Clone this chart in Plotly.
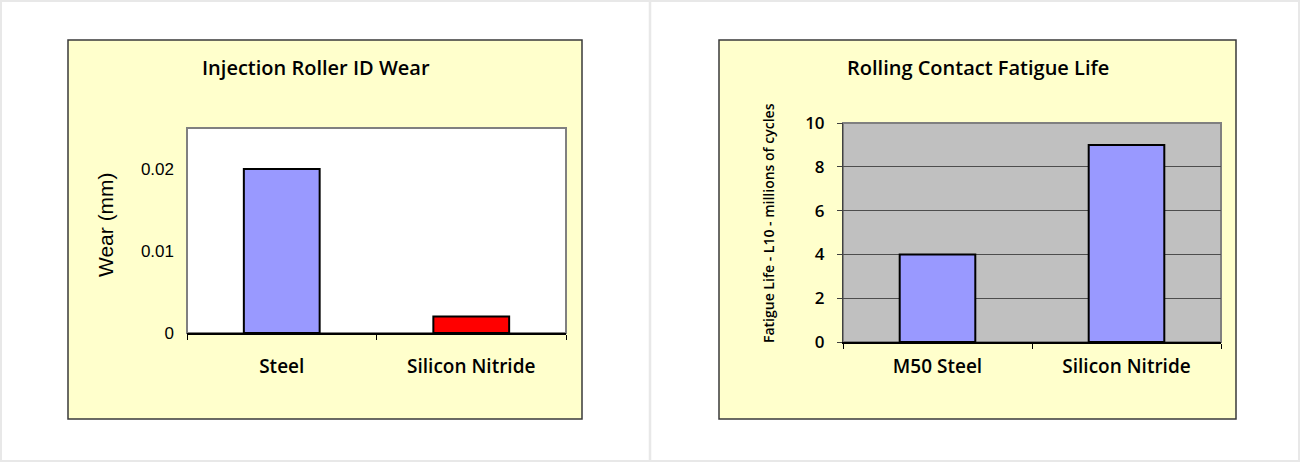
import plotly.graph_objects as go

# ---- data ----
wear_categories = ["Steel", "Silicon Nitride"]
wear_values = [0.02, 0.002]
wear_colors = ["#9999FF", "#FF0000"]

fatigue_categories = ["M50 Steel", "Silicon Nitride"]
fatigue_values = [4, 9]

left_title = "Injection Roller ID Wear"
right_title = "Rolling Contact Fatigue Life"
left_ytitle = "Wear (mm)"
right_ytitle = "Fatigue Life - L10 - millions of cycles"

W, H = 1300, 462


def px(x):
    return x / W


def py(y):
    return 1 - y / H


OPEN = "Open Sans"
ARIAL = "Liberation Sans"

fig = go.Figure()

fig.add_trace(go.Bar(
    x=wear_categories, y=wear_values, xaxis="x", yaxis="y",
    marker=dict(color=wear_colors, line=dict(color="black", width=2)),
    showlegend=False, hoverinfo="x+y",
))
fig.add_trace(go.Bar(
    x=fatigue_categories, y=fatigue_values, xaxis="x2", yaxis="y2",
    marker=dict(color="#9999FF", line=dict(color="black", width=2)),
    showlegend=False, hoverinfo="x+y",
))

shapes = [
    # page frame and divider
    dict(type="rect", xref="paper", yref="paper", x0=px(1), x1=px(1299), y0=py(461), y1=py(1),
         line=dict(color="#e8e8e8", width=2), fillcolor="rgba(0,0,0,0)", layer="below"),
    dict(type="line", xref="paper", yref="paper", x0=px(650), x1=px(650), y0=0, y1=1,
         line=dict(color="#e8e8e8", width=2.5), layer="below"),
    # yellow chart boxes
    dict(type="rect", xref="paper", yref="paper", x0=px(68), x1=px(582), y0=py(419), y1=py(40),
         line=dict(color="#3a3a3a", width=1.5), fillcolor="#FFFFCC", layer="below"),
    dict(type="rect", xref="paper", yref="paper", x0=px(719), x1=px(1236), y0=py(419), y1=py(40),
         line=dict(color="#3a3a3a", width=1.5), fillcolor="#FFFFCC", layer="below"),
    # plot areas
    dict(type="rect", xref="paper", yref="paper", x0=px(187), x1=px(566), y0=py(333), y1=py(128),
         line=dict(color="#808080", width=2), fillcolor="#FFFFFF", layer="below"),
    dict(type="rect", xref="paper", yref="paper", x0=px(843), x1=px(1221), y0=py(342), y1=py(123),
         line=dict(color="#808080", width=2), fillcolor="#C0C0C0", layer="below"),
]

annotations = [
    dict(text=left_title, xref="paper", yref="paper", x=px(316), y=py(67),
         xanchor="center", yanchor="middle", showarrow=False,
         font=dict(family=OPEN, size=20, color="black", weight=600)),
    dict(text=right_title, xref="paper", yref="paper", x=px(978), y=py(67),
         xanchor="center", yanchor="middle", showarrow=False,
         font=dict(family=OPEN, size=20, color="black", weight=600)),
    dict(text=left_ytitle, xref="paper", yref="paper", x=px(105), y=py(225),
         xanchor="center", yanchor="middle", showarrow=False, textangle=-90,
         font=dict(family=ARIAL, size=21, color="black")),
    dict(text=right_ytitle, xref="paper", yref="paper", x=px(769), y=py(223),
         xanchor="center", yanchor="middle", showarrow=False, textangle=-90,
         font=dict(family=OPEN, size=14, color="black", weight=600)),
]

fig.update_layout(
    width=W, height=H, autosize=False,
    margin=dict(l=0, r=0, t=0, b=0, pad=0, autoexpand=False),
    paper_bgcolor="white",
    plot_bgcolor="rgba(0,0,0,0)",
    showlegend=False,
    bargap=0.6,
    shapes=shapes,
    annotations=annotations,
    xaxis=dict(
        domain=[px(187), px(566)], anchor="y", type="category",
        showline=True, linecolor="black", linewidth=1.5,
        ticks="outside", tickson="boundaries", ticklen=5, tickcolor="black", tickwidth=1,
        tickfont=dict(family=OPEN, size=19, color="black", weight=600),
        ticklabelstandoff=15, showgrid=False, zeroline=False, fixedrange=True,
        automargin=False,
    ),
    yaxis=dict(
        domain=[py(333), py(128)], anchor="x",
        range=[0, 0.025], tick0=0, dtick=0.01,
        showgrid=False, zeroline=False, showline=False, ticks="",
        tickfont=dict(family=ARIAL, size=17, color="black"),
        ticklabelstandoff=12, fixedrange=True, automargin=False,
    ),
    xaxis2=dict(
        domain=[px(843), px(1221)], anchor="y2", type="category",
        showline=True, linecolor="black", linewidth=1.5,
        ticks="outside", tickson="boundaries", ticklen=5, tickcolor="black", tickwidth=1,
        tickfont=dict(family=OPEN, size=19, color="black", weight=600),
        ticklabelstandoff=6, showgrid=False, zeroline=False, fixedrange=True,
        automargin=False,
    ),
    yaxis2=dict(
        domain=[py(342), py(123)], anchor="x2",
        range=[0, 10], tick0=0, dtick=2,
        showgrid=True, gridcolor="#4d4d4d", gridwidth=1,
        zeroline=False, showline=True, linecolor="#404040", linewidth=1,
        ticks="outside", ticklen=5, tickcolor="#404040",
        tickfont=dict(family=OPEN, size=17, color="black", weight=600),
        ticklabelstandoff=9, fixedrange=True, automargin=False,
    ),
)

post_js = (
    "var gd=document.getElementById('{plot_id}');"
    "gd.style.position='fixed';gd.style.top='0px';gd.style.left='0px';"
    "document.documentElement.style.margin='0';document.documentElement.style.overflow='hidden';"
    "document.body.style.margin='0';document.body.style.padding='0';"
    "document.body.style.overflow='hidden';"
)

fig.write_html(
    "out.html",
    config={"displayModeBar": False, "responsive": False},
    post_script=post_js,
)
